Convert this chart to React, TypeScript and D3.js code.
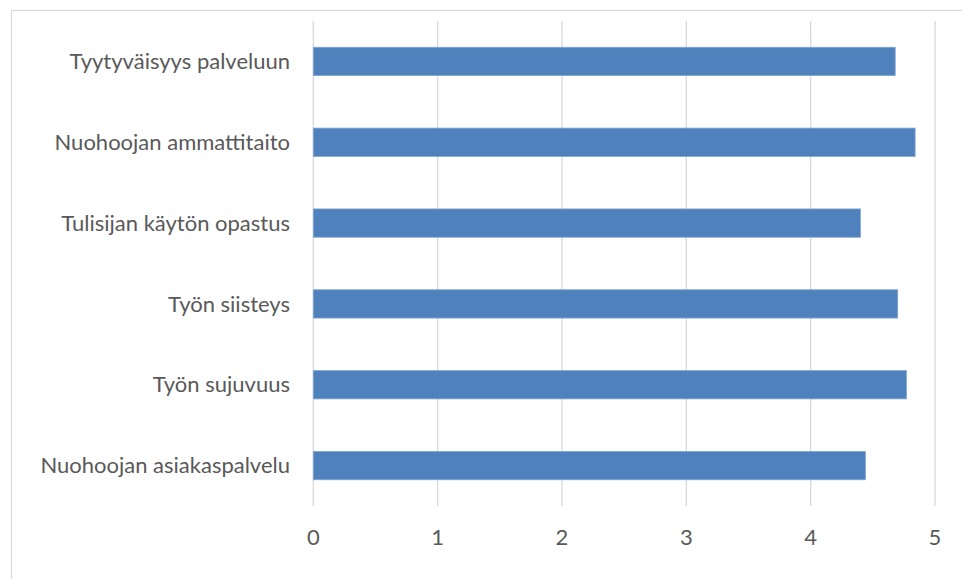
import React, { useEffect, useRef } from "react";
import * as d3 from "d3";

const categories = [
  "Tyytyväisyys palveluun",
  "Nuohoojan ammattitaito",
  "Tulisijan käytön opastus",
  "Työn siisteys",
  "Työn sujuvuus",
  "Nuohoojan asiakaspalvelu",
];
const values = [4.68, 4.84, 4.4, 4.7, 4.77, 4.44];
const xTicks = [0, 1, 2, 3, 4, 5];

const W = 962;
const H = 579;
const plot = { left: 313.3, right: 935, top: 21, bottom: 506 };

export default function App() {
  const ref = useRef<SVGSVGElement | null>(null);

  useEffect(() => {
    const svg = d3.select(ref.current);
    svg.selectAll("*").remove();

    const x = d3.scaleLinear().domain([0, 5]).range([plot.left, plot.right]);
    const y = d3
      .scaleBand<string>()
      .domain(categories)
      .range([plot.top, plot.bottom])
      .paddingInner(0.65)
      .paddingOuter(0.325);

    svg.append("rect").attr("width", W).attr("height", H).attr("fill", "#fff");

    // chart frame
    svg
      .append("rect")
      .attr("x", 11.5)
      .attr("y", 10.5)
      .attr("width", W + 20)
      .attr("height", H + 20)
      .attr("fill", "none")
      .attr("stroke", "#d9d9d9")
      .attr("stroke-width", 1.2);

    // vertical gridlines
    svg
      .append("g")
      .selectAll("line")
      .data(xTicks)
      .join("line")
      .attr("x1", (d) => x(d))
      .attr("x2", (d) => x(d))
      .attr("y1", plot.top)
      .attr("y2", plot.bottom)
      .attr("stroke", "#d9d9d9")
      .attr("stroke-width", 1.3);

    // bars
    svg
      .append("g")
      .selectAll("rect")
      .data(values)
      .join("rect")
      .attr("x", x(0))
      .attr("y", (_, i) => y(categories[i])!)
      .attr("width", (d) => x(d) - x(0))
      .attr("height", y.bandwidth())
      .attr("fill", "#4f81bd")
      .attr("stroke", "#7fa4d3")
      .attr("stroke-width", 0.8);

    // category labels
    svg
      .append("g")
      .selectAll("text")
      .data(categories)
      .join("text")
      .attr("x", 290)
      .attr("y", (d) => y(d)! + y.bandwidth() / 2)
      .attr("dy", "0.35em")
      .attr("text-anchor", "end")
      .attr("font-family", "Lato, 'Open Sans', sans-serif")
      .attr("font-size", 22)
      .attr("fill", "#595959")
      .text((d) => d);

    // x tick labels
    svg
      .append("g")
      .selectAll("text")
      .data(xTicks)
      .join("text")
      .attr("x", (d) => x(d))
      .attr("y", 537)
      .attr("dy", "0.35em")
      .attr("text-anchor", "middle")
      .attr("font-family", "Lato, 'Open Sans', sans-serif")
      .attr("font-size", 22)
      .attr("fill", "#595959")
      .text((d) => String(d));
  }, []);

  return (
    <svg
      ref={ref}
      width={W}
      height={H}
      style={{ position: "absolute", left: 0, top: 0, display: "block" }}
    />
  );
}
